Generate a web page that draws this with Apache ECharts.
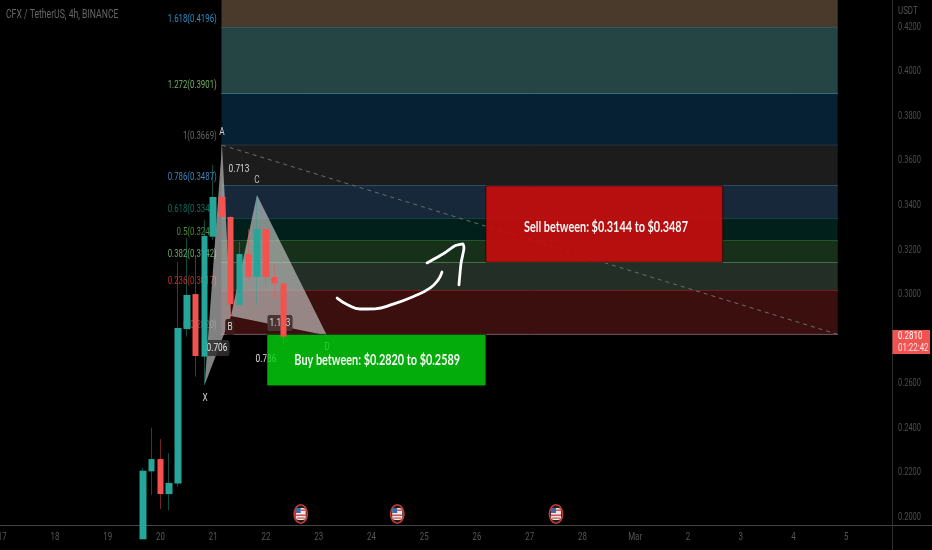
<!DOCTYPE html>
<html>
<head>
<meta charset="utf-8">
<style>html,body{margin:0;padding:0;background:#000;}#c{width:932px;height:550px;}</style>
<script src="https://cdn.jsdelivr.net/npm/echarts@6/dist/echarts.min.js"></script>
</head>
<body>
<div id="c"></div>
<script>
const FONT = 'Roboto,sans-serif';
// axes
const xMin = 16.9593, xMax = 33.8692, yMin = 0.19641, yMax = 0.43215;
const dayTicks = [17,18,19,20,21,22,23,24,25,26,27,28,29,30,31,32,33];
const dayLabels = ['17','18','19','20','21','22','23','24','25','26','27','28','Mar','2','3','4','5'];
const priceTicks = [0.20,0.22,0.24,0.26,0.28,0.30,0.32,0.34,0.36,0.38,0.40,0.42];
// candles (4h): day position, open, close, low, high
const candleDays   = [19.667,19.833,20.0,20.167,20.333,20.5,20.667,20.833,21.0,21.167,21.333,21.5,21.667,21.833,22.0,22.167,22.333];
const candleOpen   = [0.19,0.2205,0.2260,0.2103,0.2151,0.2844,0.3001,0.2720,0.3259,0.3438,0.3347,0.2952,0.3181,0.3079,0.3293,0.3078,0.3049];
const candleClose  = [0.2208,0.2260,0.2103,0.2153,0.2849,0.2997,0.2723,0.3262,0.3437,0.3347,0.2956,0.3181,0.3079,0.3293,0.3078,0.3049,0.2810];
const candleLow    = [0.19,0.2099,0.2036,0.2031,0.2136,0.2810,0.2630,0.2593,0.3244,0.3343,0.2899,0.2952,0.3055,0.2952,0.3030,0.2979,0.2772];
const candleHigh   = [0.2220,0.2401,0.2350,0.2287,0.3146,0.3253,0.3176,0.3334,0.3581,0.3670,0.3352,0.3235,0.3293,0.3438,0.3293,0.3136,0.3051];
// fib levels
const fibStartDay = 21.158, fibEndDay = 32.84;
const fibLevels = [0.4196,0.3901,0.3669,0.3487,0.3340,0.3240,0.3142,0.3017,0.2820];
const fibTexts = ['1.618(0.4196)','1.272(0.3901)','1(0.3669)','0.786(0.3487)','0.618(0.3340)','0.5(0.3240)','0.382(0.3142)','0.236(0.3017)','0(0.2820)'];
const fibTextColors = ['#2f8dc4','#6fae62','#666666','#3f83bb','#136e60','#4b8a3c','#6aa868','#c22d2d','#555555'];
const fibLineColors = ['#1f6f96','#4f9c8c','#555a60','#3d7fa8','#1c7060','#3f8a48','#5a9c62','#b52a2a','#6e5a5a'];
const fibBandColors = ['#4a3a2c','#244544','#062034','#1c1c1c','#16283a','#01201c','#16301a','#232e26','#3b0f0e'];
// boxes
const sellBox = [26.17, 30.66, 0.3487, 0.3144];
const buyBox  = [22.02, 26.17, 0.2820, 0.2589];
// harmonic pattern: X, A, B, C, D
const patternDays   = [20.838,21.168,21.338,21.831,23.158];
const patternPrices = [0.2593,0.3670,0.2903,0.3446,0.2815];
const dashedLine = [[21.168,0.3670],[32.84,0.2820]];
// hand drawn arrow
const strokeA = [[23.35,0.2983],[23.556,0.2952],[23.784,0.2934],[24.068,0.2935],[24.41,0.2956],[24.788,0.2989],[25.11,0.3028],[25.262,0.3064],[25.338,0.3100]];
const strokeB = [[25.054,0.3141],[25.357,0.3181],[25.585,0.3218],[25.736,0.3226],[25.755,0.3208],[25.70,0.3141],[25.66,0.3042]];
// notes
const noteTexts  = ['A','X','B','C','D','0.713','0.706','0.786','1.133'];
const noteDays   = [21.168,20.845,21.32,21.831,23.158,21.49,21.073,22.002,22.267];
const notePrices = [0.3729,0.2534,0.2853,0.3513,0.2763,0.3563,0.2759,0.2709,0.2871];
const noteColors = ['#cfcfcf','#cfcfcf','#d8d8d8','#bdbdbd','#d0d0d0','#d8d8d8','#e6e6e6','#e0e0e0','#dddddd'];
const noteBacks  = [null,null,'#3b1a18',null,null,null,'rgba(48,48,48,0.85)',null,'#4a3434'];
const newsDays = [22.66,24.49,27.5];
const lastPrice = 0.2810, lastTimer = '01:22:42';
const sellText = 'Sell between: $0.3144 to $0.3487', buyText = 'Buy between: $0.2820 to $0.2589';
const sellPos = [28.447,0.3302], buyPos = [24.11,0.2705];

const SQ = 0.72;
const UP='#26a69a', DOWN='#f4524f';
const chart = echarts.init(document.getElementById('c'), null, {renderer:'canvas'});
const rows = candleDays.map((d,i)=>[d,candleOpen[i],candleClose[i],candleLow[i],candleHigh[i]]);
const bodyRows = rows.map(r=>[r[0],r[1],r[2],Math.min(r[1],r[2]),Math.max(r[1],r[2])]);
const idx = a => a.map((_,i)=>[i]);
const txt = (x,y,text,fill,font,align,vAlign,extra,sq) => ({type:'text',x,y,scaleX:sq||SQ,
  style:Object.assign({x:0,y:0,text,fill,font,align:align||'center',verticalAlign:vAlign||'middle'},extra||{})});

chart.setOption({
  animation:false,
  backgroundColor:'#000',
  tooltip:{show:false},
  grid:{left:0,right:40,top:0,bottom:25,containLabel:false,outerBoundsMode:'none'},
  xAxis:{type:'value',min:xMin,max:xMax,splitLine:{show:false},axisTick:{show:false},
    axisLine:{show:true,onZero:false,lineStyle:{color:'#444',width:1}},
    axisLabel:{show:false}},
  yAxis:{type:'value',position:'right',min:yMin,max:yMax,splitLine:{show:false},axisTick:{show:false},
    axisLine:{show:true,onZero:false,lineStyle:{color:'#2e2e2e',width:1}},
    axisLabel:{show:false}},
  graphic:[
    {type:'line',z:1,shape:{x1:892,y1:525.5,x2:932,y2:525.5},style:{stroke:'#444',lineWidth:1}},
    {type:'line',z:1,shape:{x1:892.5,y1:525,x2:892.5,y2:550},style:{stroke:'#2e2e2e',lineWidth:1}},
    {type:'text',z:20,x:6,y:9,scaleX:SQ,style:{x:0,y:0,text:'CFX / TetherUS, 4h, BINANCE',fill:'#666',font:'12px '+FONT}},
    {type:'text',z:20,x:898,y:6,scaleX:SQ,style:{x:0,y:0,text:'USDT',fill:'#555',font:'11px '+FONT}}
  ],
  series:[
    {type:'custom',z:1,silent:true,clip:false,data:idx(dayTicks),renderItem:(p,api)=>{
      const i=p.dataIndex,a=api.coord([dayTicks[i],yMin]);
      return txt(a[0],a[1]+12,dayLabels[i],'#565656','11px '+FONT);
    }},
    {type:'custom',z:1,silent:true,clip:false,data:idx(priceTicks),renderItem:(p,api)=>{
      const i=p.dataIndex,a=api.coord([xMax,priceTicks[i]]);
      return txt(a[0]+6,a[1],priceTicks[i].toFixed(4),'#4c4c4c','11px '+FONT,'left',null,null,0.68);
    }},
    {type:'custom',z:1,silent:true,clip:true,data:idx(fibLevels),renderItem:(p,api)=>{
      const i=p.dataIndex, hi=i===0?yMax:fibLevels[i-1];
      const a=api.coord([fibStartDay,hi]), b=api.coord([fibEndDay,fibLevels[i]]);
      return {type:'group',children:[
        {type:'rect',shape:{x:a[0],y:a[1],width:b[0]-a[0],height:b[1]-a[1]},style:{fill:fibBandColors[i]}},
        {type:'line',shape:{x1:a[0],y1:b[1],x2:b[0],y2:b[1]},style:{stroke:fibLineColors[i],lineWidth:1}}
      ]};
    }},
    {type:'line',z:2,silent:true,data:dashedLine,symbol:'none',lineStyle:{color:'#6d6d6d',width:1,type:[4,4]}},
    {type:'custom',z:2,silent:true,clip:false,data:idx(fibLevels),renderItem:(p,api)=>{
      const i=p.dataIndex, a=api.coord([fibStartDay,fibLevels[i]]);
      return txt(a[0]-4.7,a[1]-3,fibTexts[i],fibTextColors[i],'11.5px '+FONT,'right','bottom',null,0.68);
    }},
    {type:'custom',z:3,silent:true,clip:true,data:[[0],[1]],renderItem:(p,api)=>{
      const set=p.dataIndex===0?[0,1,2]:[2,3,4];
      const pts=set.map(k=>api.coord([patternDays[k],patternPrices[k]]));
      return {type:'polygon',shape:{points:pts},style:{fill:'rgba(208,208,208,0.62)'}};
    }},
    {type:'custom',z:3,silent:true,clip:false,data:idx(noteTexts),renderItem:(p,api)=>{
      const i=p.dataIndex,a=api.coord([noteDays[i],notePrices[i]]);
      const extra=noteBacks[i]?{backgroundColor:noteBacks[i],padding:[2,3],borderRadius:3}:{};
      return txt(a[0],a[1],noteTexts[i],noteColors[i],'11.5px '+FONT,'center','middle',extra);
    }},
    {type:'custom',z:4,silent:true,clip:true,data:[[0],[1]],renderItem:(p,api)=>{
      const b=p.dataIndex===0?sellBox:buyBox;
      const a=api.coord([b[0],b[2]]), c=api.coord([b[1],b[3]]);
      return {type:'rect',shape:{x:a[0],y:a[1],width:c[0]-a[0],height:c[1]-a[1]},
        style:{fill:p.dataIndex===0?'rgba(198,13,13,0.92)':'rgba(4,210,12,0.82)',stroke:'rgba(0,0,0,0.6)',lineWidth:1}};
    }},
    {type:'candlestick',z:6,silent:true,data:rows,barWidth:1,encode:{x:0,y:[1,2,3,4]},
      itemStyle:{color:'rgba(38,166,154,0.45)',color0:'rgba(244,82,79,0.45)',borderColor:'rgba(38,166,154,0.45)',borderColor0:'rgba(244,82,79,0.45)',borderWidth:1}},
    {type:'candlestick',z:7,silent:true,data:bodyRows,barWidth:7,encode:{x:0,y:[1,2,3,4]},
      itemStyle:{color:UP,color0:DOWN,borderColor:UP,borderColor0:DOWN,borderWidth:0}},
    {type:'line',z:8,silent:true,data:strokeA,symbol:'none',smooth:0.5,lineStyle:{color:'#fff',width:2.8,cap:'round'}},
    {type:'line',z:8,silent:true,data:strokeB,symbol:'none',smooth:0.15,lineStyle:{color:'#fff',width:2.8,cap:'round',join:'round'}},
    {type:'custom',z:9,silent:true,clip:false,data:[[0],[1]],renderItem:(p,api)=>{
      const q=p.dataIndex===0?sellPos:buyPos, a=api.coord(q);
      return txt(a[0],a[1],p.dataIndex===0?sellText:buyText,'#f6f6f6','bold 14.5px Lato,'+FONT,'center','middle',null,0.75);
    }},
    {type:'custom',z:9,silent:true,clip:false,data:[[lastPrice]],renderItem:(p,api)=>{
      const a=api.coord([xMax,lastPrice]);
      return {type:'group',children:[
        {type:'rect',shape:{x:a[0]+0.5,y:a[1]-6.5,width:37.5,height:24},style:{fill:'#f05350'}},
        txt(a[0]+6,a[1],lastPrice.toFixed(4),'#fff','11px '+FONT,'left'),
        txt(a[0]+6,a[1]+12,lastTimer,'#fde3e3','11px '+FONT,'left')
      ]};
    }},
    {type:'custom',z:9,silent:true,clip:false,data:idx(newsDays),renderItem:(p,api)=>{
      const a=api.coord([newsDays[p.dataIndex],yMin]);
      const cx=a[0], cy=a[1]-11;
      const kids=[{type:'ellipse',shape:{cx,cy,rx:6.6,ry:9.2},style:{fill:'#1d1d1d',stroke:'#c93a36',lineWidth:1.6}},
        {type:'rect',shape:{x:cx-5,y:cy-6,width:10,height:12,r:3},style:{fill:'#e8e8e8'}},
        {type:'rect',shape:{x:cx-5,y:cy-6,width:5,height:5},style:{fill:'#3a68a8'}},
        {type:'rect',shape:{x:cx,y:cy-4.5,width:5,height:1.5},style:{fill:'#d8504c'}},
        {type:'rect',shape:{x:cx-5,y:cy+0.5,width:10,height:1.5},style:{fill:'#d8504c'}},
        {type:'rect',shape:{x:cx-4,y:cy+3.5,width:8,height:1.2},style:{fill:'#d8504c'}}];
      return {type:'group',children:kids};
    }}
  ]
});
</script>
</body>
</html>
